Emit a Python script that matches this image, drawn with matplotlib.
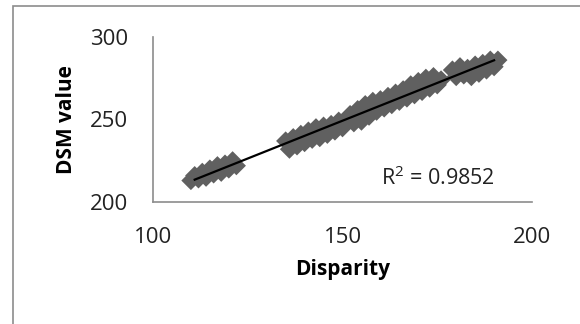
import matplotlib
matplotlib.use("Agg")
import matplotlib.pyplot as plt
import numpy as np
from matplotlib.patches import Rectangle

disparity = [110, 111, 112, 113, 114, 115, 116, 117, 118, 119, 120, 121, 122,
             135, 136, 137, 138, 139, 140, 141, 142, 143, 144, 145, 146, 147, 148, 149, 150,
             152, 153, 154, 155, 156, 157, 158, 159, 160, 161, 162,
             163, 164, 165, 166, 167, 168, 169, 170, 171, 172, 173, 174, 175, 176,
             179, 180, 181, 182, 183, 184, 185, 186, 187, 188, 189, 190, 191]
dsm = [213, 216, 214, 218, 215, 220, 217, 222, 218, 223, 220, 225, 222,
       237, 232, 239, 234, 241, 236, 243, 238, 245, 239, 246, 241, 247, 243, 249, 245,
       253, 248, 256, 249, 259, 252, 261, 255, 262, 257, 264,
       259, 266, 261, 268, 263, 271, 265, 273, 267, 275, 269, 276, 271, 274,
       280, 276, 282, 277, 281, 276, 283, 278, 284, 280, 286, 282, 286]
r2_label = "R$^2$ = 0.9852"
xticks = [100, 150, 200]
yticks = [200, 250, 300]

plt.rcParams['font.family'] = ['Open Sans', 'DejaVu Sans']
plt.rcParams['mathtext.fontset'] = 'custom'
plt.rcParams['mathtext.rm'] = 'Open Sans'
fig = plt.figure(figsize=(5.8, 3.24), dpi=100)
ax = fig.add_axes([153/580, 1-202/324, (532-153)/580, (202-37)/324])

ax.scatter(disparity, dsm, marker='D', s=95, color='#606060', edgecolors='none', zorder=2)
coef = np.polyfit(disparity, dsm, 1)
xl = np.array([min(disparity) + 1, max(disparity) - 1])
ax.plot(xl, np.polyval(coef, xl), color='black', lw=1.6, zorder=3)
ax.text(190.2, 210.5, r2_label, ha='right', va='baseline', fontsize=15.5, color='#222222')

ax.set_xlim(100, 200)
ax.set_ylim(200, 300)
ax.set_xticks(xticks)
ax.set_yticks(yticks)
ax.tick_params(length=0, labelsize=16, colors='#222222')
ax.tick_params(axis='x', pad=18)
ax.tick_params(axis='y', pad=18)
for s in ['top', 'right']:
    ax.spines[s].set_visible(False)
for s in ['left', 'bottom']:
    ax.spines[s].set_color('#8c8c8c')
    ax.spines[s].set_linewidth(1.2)
ax.set_xlabel('Disparity', fontsize=15, fontweight='bold', labelpad=8)
ax.set_ylabel('DSM value', fontsize=15, fontweight='bold', labelpad=9)

fig.patches.append(Rectangle((13/580, -0.1), 1.2, 1 - 6/324 + 0.1, transform=fig.transFigure,
                             fill=False, edgecolor='#8c8c8c', lw=1.2))
fig.savefig('out.png', dpi=100)
